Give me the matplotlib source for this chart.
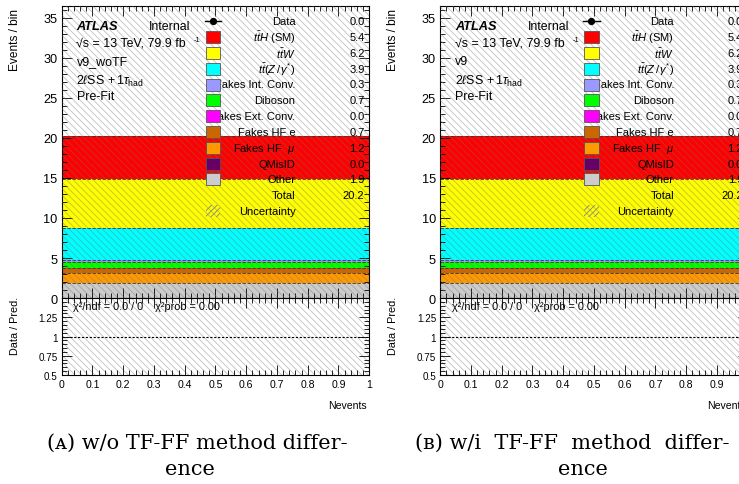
import matplotlib
matplotlib.use("Agg")
import matplotlib.pyplot as plt
from matplotlib.patches import Rectangle
from matplotlib.ticker import MultipleLocator, FixedLocator, FuncFormatter
from matplotlib.lines import Line2D

plt.rcParams['font.family'] = ['Liberation Sans', 'DejaVu Sans']
plt.rcParams['mathtext.fontset'] = 'custom'
plt.rcParams['mathtext.rm'] = 'Liberation Sans'
plt.rcParams['mathtext.it'] = 'Liberation Sans:italic'
plt.rcParams['mathtext.bf'] = 'Liberation Sans:bold'
plt.rcParams['hatch.linewidth'] = 0.6

# ---------------- data ----------------
samples = [r'$t\bar{t}H$ (SM)', r'$t\bar{t}W$', r'$t\bar{t}(Z\,/\,\gamma^{*})$',
           'Fakes Int. Conv.', 'Diboson', 'Fakes Ext. Conv.',
           'Fakes HF e', r'Fakes HF  $\mu$', 'QMisID', 'Other']
yields = [5.4, 6.2, 3.9, 0.3, 0.7, 0.0, 0.7, 1.2, 0.0, 1.9]
colors = ['#ff0000', '#ffff00', '#00ffff', '#9999ff', '#00ff00',
          '#ff00ff', '#cc6600', '#ff9900', '#660066', '#cccccc']
data_yield = 0.0
total_yield = 20.2
total_unc = 20.2
bin_edges = [0.0, 1.0]
panel_tags = ['v9_woTF', 'v9']
captions = [('(ᴀ) w/o TF-FF method differ-', 'ence'),
            ('(ʙ) w/i  TF-FF  method  differ-', 'ence')]

W, H = 739, 485
fig = plt.figure(figsize=(W / 100, H / 100), dpi=100)


def fx(x):
    return x / W


def fy(y):
    return 1 - y / H


def add_axes_px(x0, y0, x1, y1):
    return fig.add_axes([fx(x0), fy(y1), fx(x1) - fx(x0), fy(y0) - fy(y1)])


FS = 8.0
FSB = 8.9
hatch_col = (0.45, 0.45, 0.45, 0.45)


def style_axes(ax):
    ax.tick_params(which='both', direction='in', top=True, right=True,
                   labelsize=FS - 0.4, pad=3)
    ax.tick_params(which='major', length=7, width=0.6)
    ax.tick_params(which='minor', length=3.5, width=0.6)
    for s in ax.spines.values():
        s.set_linewidth(0.8)


for p in range(2):
    dx = 378.5 * p
    L, R = 61.7 + dx, 369.2 + dx
    ax = add_axes_px(L, 7, R, 299)
    rax = add_axes_px(L, 299, R, 376)
    center = 0.5 * (bin_edges[0] + bin_edges[1])
    width = bin_edges[1] - bin_edges[0]

    # stacked histogram (bottom = last sample)
    bottom = 0.0
    for name, val, col in zip(samples[::-1], yields[::-1], colors[::-1]):
        ax.bar(center, val, width=width, bottom=bottom, color=col,
               linewidth=0, zorder=1)
        if val > 0:
            ax.plot(bin_edges, [bottom + val] * 2, ls=(0, (4, 2)),
                    color='#333333', lw=0.6, zorder=2)
        bottom += val
    # uncertainty band
    ax.bar(center, 2 * total_unc, width=width, bottom=total_yield - total_unc,
           facecolor='none', edgecolor=hatch_col, hatch='\\\\\\\\\\',
           linewidth=0, zorder=3)
    ax.set_xlim(bin_edges[0], bin_edges[1])
    ax.set_ylim(0, 36.5)
    ax.xaxis.set_major_locator(MultipleLocator(0.1))
    ax.xaxis.set_minor_locator(MultipleLocator(0.02))
    ax.yaxis.set_major_locator(MultipleLocator(5))
    ax.yaxis.set_minor_locator(MultipleLocator(1))
    ax.tick_params(axis='x', labelbottom=False)
    style_axes(ax)
    ax.tick_params(axis='y', labelsize=9.2)

    # ratio
    rax.bar(center, 2 * total_unc / total_yield, width=width,
            bottom=1 - total_unc / total_yield, facecolor='none',
            edgecolor=hatch_col, hatch='\\\\\\\\\\', linewidth=0, zorder=1)
    rax.axhline(1.0, color='black', ls=(0, (2, 1.5)), lw=0.8, zorder=2)
    rax.set_xlim(bin_edges[0], bin_edges[1])
    rax.set_ylim(0.5, 1.5)
    rax.xaxis.set_major_locator(MultipleLocator(0.1))
    rax.xaxis.set_minor_locator(MultipleLocator(0.02))
    rax.yaxis.set_major_locator(FixedLocator([0.5, 0.75, 1.0, 1.25]))
    rax.yaxis.set_minor_locator(MultipleLocator(0.05))
    rax.yaxis.set_major_formatter(FuncFormatter(lambda v, pos: f'{v:g}'))
    rax.xaxis.set_major_formatter(FuncFormatter(lambda v, pos: f'{v:g}'))
    style_axes(rax)
    rax.tick_params(axis='y', labelsize=FS - 0.9)

    # axis titles
    fig.text(fx(15 + dx), fy(9), 'Events / bin', rotation=90, ha='center',
             va='top', fontsize=FS + 0.6)
    fig.text(fx(15 + dx), fy(297), 'Data / Pred.', rotation=90, ha='center',
             va='top', fontsize=FS - 0.2)
    fig.text(fx(R - 2), fy(406), 'Nevents', ha='right', va='center',
             fontsize=FS - 0.4)
    fig.text(fx(73 + dx), fy(307), 'χ²/ndf = 0.0 / 0    χ²prob = 0.00',
             ha='left', va='center', fontsize=FS - 0.2)

    # ATLAS label block
    fig.text(fx(76.5 + dx), fy(27.5), 'ATLAS', ha='left', va='center',
             fontsize=FSB + 0.3, fontweight='bold', style='italic')
    fig.text(fx(149 + dx), fy(27.5), 'Internal', ha='left', va='center',
             fontsize=FSB)
    fig.text(fx(76.5 + dx), fy(44), '√s = 13 TeV, 79.9 fb', ha='left',
             va='center', fontsize=FSB)
    fig.text(fx(194 + dx), fy(40), '-1', ha='left', va='center',
             fontsize=FS - 2.5)
    fig.text(fx(76.5 + dx), fy(62), panel_tags[p], ha='left', va='center',
             fontsize=FSB)
    fig.text(fx(76.5 + dx), fy(81), r'$2\ell$SS$\,+1\tau_{\mathrm{had}}$',
             ha='left', va='center', fontsize=FSB)
    fig.text(fx(76.5 + dx), fy(97), 'Pre-Fit', ha='left', va='center',
             fontsize=FSB)

    # legend
    row0, drow = 22.3, 15.8
    xbox0, xbox1 = 205.5 + dx, 220 + dx
    xlab, xval = 295.5 + dx, 364.5 + dx
    # data entry
    fig.lines.append(Line2D([fx(xbox0 - 1), fx(xbox1 + 1)], [fy(row0)] * 2,
                            transform=fig.transFigure, color='black', lw=1.0,
                            zorder=6))
    fig.lines.append(Line2D([fx(0.5 * (xbox0 + xbox1))], [fy(row0)],
                            transform=fig.transFigure, color='black',
                            marker='o', ms=4.2, zorder=6))
    fig.text(fx(xlab), fy(row0), 'Data', ha='right', va='center', fontsize=FS)
    fig.text(fx(xval), fy(row0), f'{data_yield:.1f}', ha='right', va='center',
             fontsize=FS)
    for i, (name, val, col) in enumerate(zip(samples, yields, colors)):
        yrow = row0 + drow * (i + 1)
        fig.patches.append(Rectangle((fx(xbox0), fy(yrow + 6)),
                                     fx(xbox1) - fx(xbox0), fy(yrow - 6) - fy(yrow + 6),
                                     transform=fig.transFigure, facecolor=col,
                                     edgecolor='#555555', lw=0.6, zorder=5))
        fig.text(fx(xlab), fy(yrow), name, ha='right', va='center',
                 fontsize=FS, zorder=4)
        fig.text(fx(xval), fy(yrow), f'{val:.1f}', ha='right', va='center',
                 fontsize=FS, zorder=4)
    yrow = row0 + drow * (len(samples) + 1)
    fig.text(fx(xlab), fy(yrow), 'Total', ha='right', va='center', fontsize=FS)
    fig.text(fx(xval), fy(yrow), f'{total_yield:.1f}', ha='right', va='center',
             fontsize=FS)
    yrow += drow
    fig.patches.append(Rectangle((fx(xbox0), fy(yrow + 6)),
                                 fx(xbox1) - fx(xbox0), fy(yrow - 6) - fy(yrow + 6),
                                 transform=fig.transFigure, facecolor='none',
                                 edgecolor=(0.5, 0.5, 0.6), hatch='//////',
                                 lw=0, zorder=5))
    fig.text(fx(xlab), fy(yrow), 'Uncertainty', ha='right', va='center',
             fontsize=FS)

# captions
cap_x1 = [197, 572.5]
cap_x2 = [190, 583]
for p in range(2):
    fig.text(fx(cap_x1[p]), fy(443), captions[p][0], ha='center', va='center',
             fontsize=15, family=['DejaVu Serif', 'DejaVu Sans'])
    fig.text(fx(cap_x2[p]), fy(470), captions[p][1], ha='center', va='center',
             fontsize=15, family=['DejaVu Serif', 'DejaVu Sans'])

fig.savefig('out.png', dpi=100)
